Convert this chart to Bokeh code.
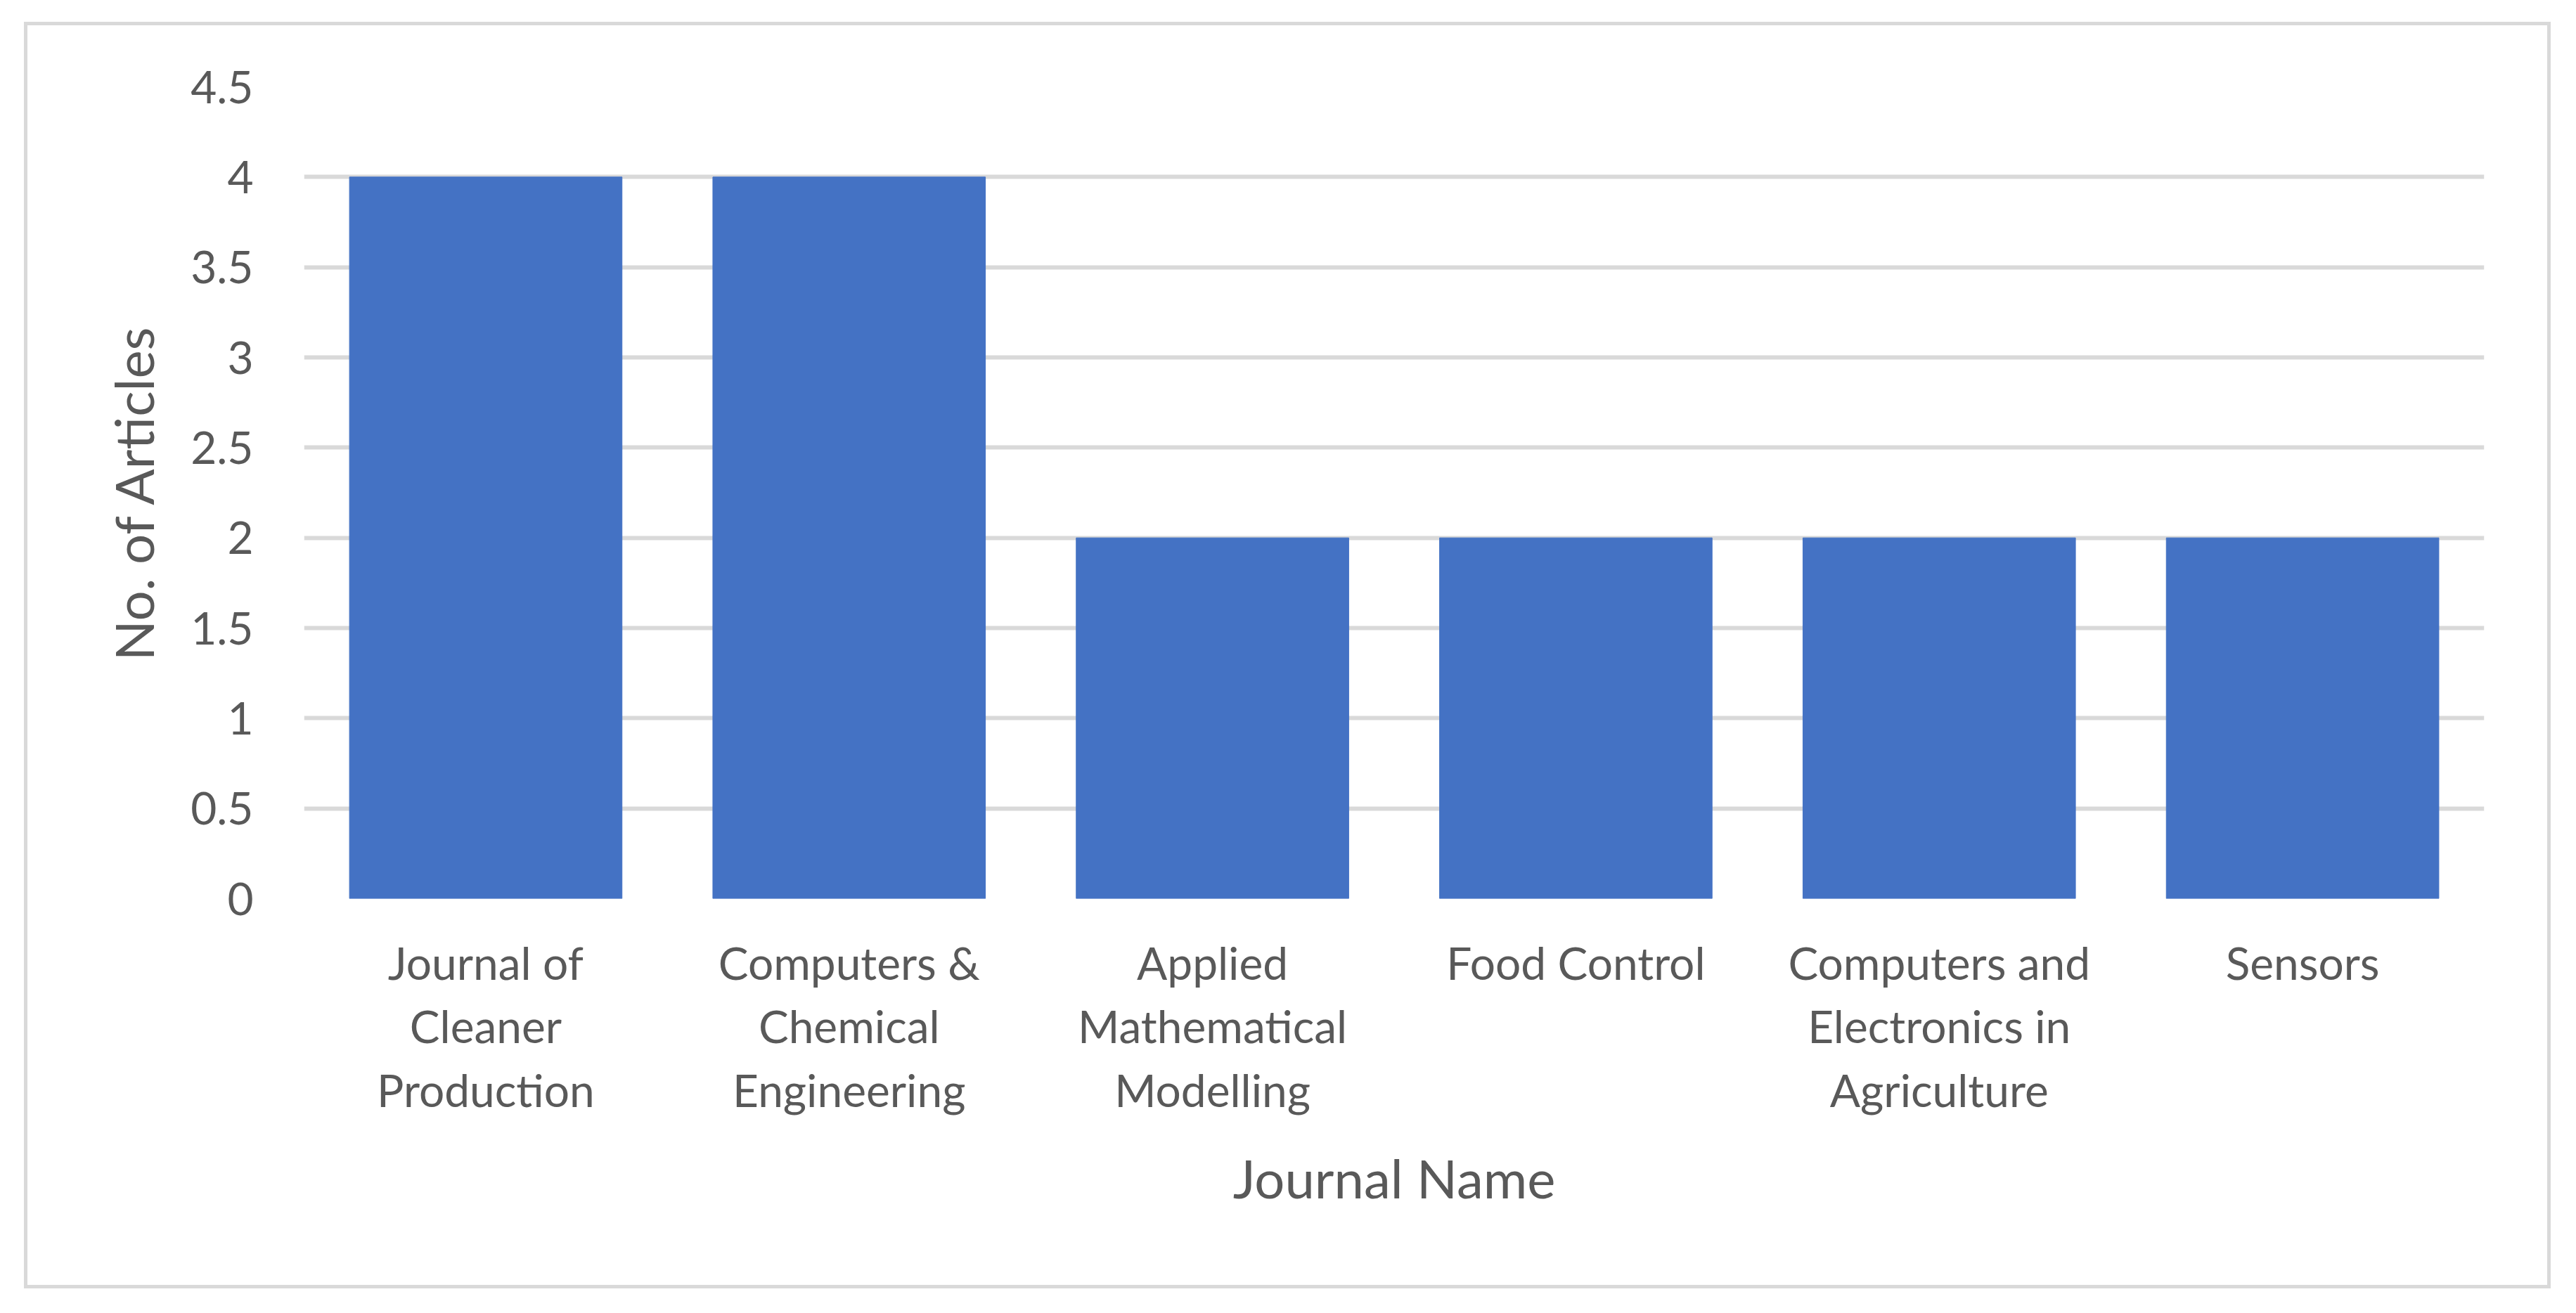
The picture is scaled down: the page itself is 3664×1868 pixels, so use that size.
from bokeh.plotting import figure
from bokeh.models import Range1d, FixedTicker
from bokeh.embed import file_html
from bokeh.resources import INLINE

journals = ["Journal of\nCleaner\nProduction", "Computers &\nChemical\nEngineering",
            "Applied\nMathematical\nModelling", "Food Control",
            "Computers and\nElectronics in\nAgriculture", "Sensors"]
articles = [4, 4, 2, 2, 2, 2]
y_ticks = [0, 0.5, 1, 1.5, 2, 2.5, 3, 3.5, 4, 4.5]
y_tick_labels = ["0", "0.5", "1", "1.5", "2", "2.5", "3", "3.5", "4", "4.5"]

FONT = "Lato"
TXT = "#595959"
GRID = "#d9d9d9"

p = figure(x_range=journals, y_range=Range1d(0, 4.5),
           width=3594, height=1802, output_backend="svg", toolbar_location=None,
           min_border_left=393, min_border_right=100, min_border_top=87, min_border_bottom=560,
           margin=(31, 0, 0, 34),
           styles={"border": "5px solid #d9d9d9"})

p.vbar(x=journals, top=articles, width=0.75, color="#4472C4")

p.outline_line_color = None
p.xgrid.grid_line_color = None
p.ygrid.grid_line_color = GRID
p.ygrid.grid_line_width = 6
p.yaxis.ticker = FixedTicker(ticks=y_ticks)
p.yaxis.major_label_overrides = {t: l for t, l in zip(y_ticks, y_tick_labels)}

for ax in (p.xaxis[0], p.yaxis[0]):
    ax.axis_line_color = None
    ax.major_tick_line_color = None
    ax.minor_tick_line_color = None
    ax.major_tick_out = 0
    ax.major_tick_in = 0
    ax.major_label_text_font = FONT
    ax.major_label_text_font_size = "64px"
    ax.major_label_text_color = TXT
    ax.axis_label_text_font = FONT
    ax.axis_label_text_font_size = "76px"
    ax.axis_label_text_color = TXT
    ax.axis_label_text_font_style = "normal"

p.yaxis.axis_label = "No. of Articles"
p.yaxis.major_label_standoff = 72
p.yaxis.axis_label_standoff = 33
p.xaxis.axis_label = "Journal Name"
p.xaxis.major_label_standoff = 52
p.xaxis.major_label_text_line_height = 1.18
p.xaxis.axis_label_standoff = 38

open("out.html", "w").write(file_html(p, INLINE))
